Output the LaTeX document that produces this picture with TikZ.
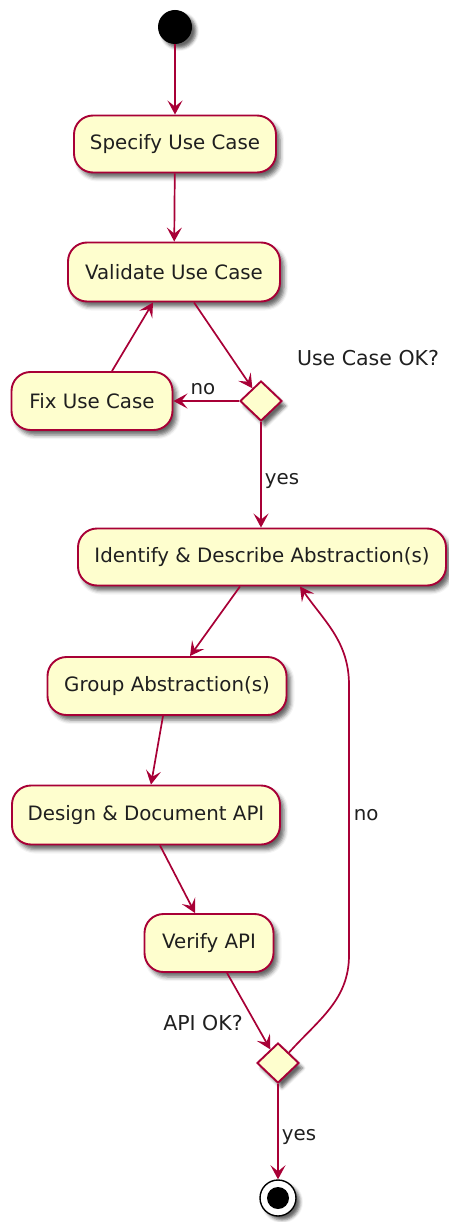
\documentclass[tikz,border=0pt]{standalone}
\usepackage{fontspec}
\setmainfont{DejaVu Sans}
\usetikzlibrary{shapes.geometric,arrows.meta,calc,shadows.blur}
\definecolor{umlred}{HTML}{A80036}
\definecolor{umlfill}{HTML}{FEFECE}
\definecolor{umltext}{HTML}{1F1F1F}
\tikzset{
  act/.style={draw=umlred, line width=1.9pt, fill=umlfill, rounded corners=19pt,
    inner sep=0pt, minimum height=57pt, text=umltext,
    font=\fontsize{19.8}{23}\selectfont,
    blur shadow={shadow xshift=4pt, shadow yshift=-5pt, shadow blur radius=4pt, shadow opacity=60}},
  decis/.style={diamond, draw=umlred, line width=1.9pt, fill=umlfill, inner sep=0pt,
    minimum width=42pt, minimum height=40pt,
    blur shadow={shadow xshift=4pt, shadow yshift=-5pt, shadow blur radius=3pt, shadow opacity=60}},
  lbl/.style={text=umltext, font=\fontsize{19.8}{23}\selectfont, inner sep=0pt},
  qlbl/.style={text=umltext, font=\fontsize{20.5}{24}\selectfont, inner sep=0pt},
  flow/.style={draw=umlred, line width=1.7pt,
    -{Stealth[length=14pt,width=15pt,inset=6pt]}},
}
\begin{document}
\begin{tikzpicture}[x=1pt,y=-1pt]
\useasboundingbox (0,0) rectangle (448,1222);
% start
\node[circle, fill=black, minimum size=34pt, inner sep=0pt,
  blur shadow={shadow xshift=4pt, shadow yshift=-4pt, shadow blur radius=3pt, shadow opacity=60}] (start) at (175,27) {};
% activities
\node[act, minimum width=202pt] (spec) at (175,144) {Specify Use Case};
\node[act, minimum width=212pt, minimum height=59pt] (valid) at (174,272) {Validate Use Case};
\node[act, minimum width=161pt, minimum height=58pt] (fix) at (92,401) {Fix Use Case};
\node[decis] (d1) at (261,401) {};
\node[qlbl] (q1) at (368,358) {Use Case OK?};
\node[act, minimum width=368pt] (ident) at (262,557) {Identify \& Describe Abstraction(s)};
\node[act, minimum width=239pt, minimum height=58pt] (group) at (167,686) {Group Abstraction(s)};
\node[act, minimum width=268pt, minimum height=59pt] (design) at (146,815) {Design \& Document API};
\node[act, minimum width=129pt, minimum height=58pt] (verify) at (209,943) {Verify API};
\node[decis] (d2) at (278,1063) {};
\node[qlbl] (q2) at (203,1023) {API OK?};
% end
\node[circle, draw=black, line width=1.4pt, fill=white, minimum size=36pt, inner sep=0pt,
  blur shadow={shadow xshift=4pt, shadow yshift=-4pt, shadow blur radius=3pt, shadow opacity=60}] (stop) at (278,1198) {};
\node[circle, fill=black, minimum size=22pt, inner sep=0pt] (stopdot) at (stop) {};
\coordinate (bend1) at (349,955);
\coordinate (bend2) at (349,685);
% connectors
\draw[flow] (start) -- (spec);
\draw[flow] (spec) -- (valid);
\draw[flow] ($(valid.south)+(20,0)$) -- (d1);
\draw[flow] (d1.west) -- node[lbl, pos=0.55, above=5pt] {no} (fix.east);
\draw[flow] ($(fix.north)+(20,0)$) -- ($(valid.south)+(-21,0)$);
\draw[flow] (d1.south) -- node[lbl, pos=0.56, right=3pt] {yes} (d1.south |- ident.north);
\draw[flow] ($(ident.south)+(-22,0)$) -- ($(group.north)+(23,0)$);
\draw[flow] ($(group.south)+(-4,0)$) -- ($(design.north)+(5,0)$);
\draw[flow] ($(design.south)+(14,0)$) -- ($(verify.north)+(-14,0)$);
\draw[flow] ($(verify.south)+(18,0)$) -- (d2);
\draw[flow] (d2.north east) to[out=48,in=-90] (bend1) -- node[lbl, pos=0.52, right=4pt] {no} (bend2) to[out=90,in=-55] ($(ident.south)+(38,0)$);
\draw[flow] (d2.south) -- node[lbl, pos=0.56, right=3pt] {yes} (stop);
\end{tikzpicture}
\end{document}
